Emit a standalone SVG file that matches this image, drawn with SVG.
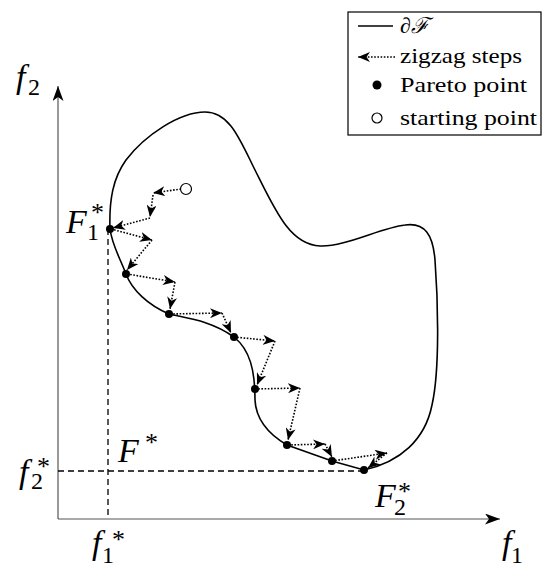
<svg xmlns="http://www.w3.org/2000/svg" width="546" height="569" viewBox="0 0 546 569">
<style>
.curve{fill:none;stroke:#000;stroke-width:1.6}
.axis{fill:none;stroke:#555;stroke-width:1.2}
.dash{fill:none;stroke:#000;stroke-width:1.3;stroke-dasharray:6 4}
.step{fill:none;stroke:#000;stroke-width:1.6;stroke-dasharray:1.6 1.6;marker-end:url(#stealth)}
.pareto{fill:#000}
.start{fill:#fff;stroke:#000;stroke-width:1.2}
.math{font-family:"Liberation Serif",serif;font-style:italic;font-size:34px;fill:#000}
.sub{font-style:normal;font-size:24px}
.star{font-style:normal;font-size:26px}
.leg{font-family:"Liberation Serif",serif;font-size:22px;fill:#000}
</style>
<defs>
<marker id="stealth" viewBox="0 0 12 10" refX="12" refY="5" markerWidth="12" markerHeight="10" markerUnits="userSpaceOnUse" orient="auto">
<path d="M0,0 L12,5 L0,10 L3.5,5 Z" fill="#000"/>
</marker>
<marker id="axhead" viewBox="0 0 15 11" refX="15" refY="5.5" markerWidth="15" markerHeight="11" markerUnits="userSpaceOnUse" orient="auto">
<path d="M0,0 L15,5.5 L0,11 L4,5.5 Z" fill="#000"/>
</marker>
</defs>
<g id="axes">
<path class="axis" d="M58,519 L58,86" marker-end="url(#axhead)"/>
<path class="axis" d="M58,519 L500,519" marker-end="url(#axhead)"/>
</g>
<g id="guides">
<path class="dash" d="M108,229 L108,519"/>
<path class="dash" d="M58,471 L362,471"/>
</g>
<g id="boundary">
<path class="curve" d="M110,229 C109,200 113,178 126,160 C145,135 180,112 205,112 C230,112 240,140 255,170 C275,210 290,245 320,246 C345,247 380,228 405,225 C425,222 433,235 435,260 C438,300 440,370 432,405 C425,440 400,462 364,470 L332,461 L287,445 C270,435 256,420 255,400 C255,370 250,350 234,337 C210,320 185,318 169,314 C148,305 132,290 126,274 C120,258 112,245 110,229 Z"/>
</g>
<g id="connectors">
<path class="step" d="M181,189 L153,193"/>
<path class="step" d="M153,195 L150,217"/>
<path class="step" d="M150,218 L113,228"/>
<path class="step" d="M111,229 L152,240"/>
<path class="step" d="M152,240 L127,270"/>
<path class="step" d="M127,274 L175,282"/>
<path class="step" d="M175,282 L170,309"/>
<path class="step" d="M170,314 L222,313"/>
<path class="step" d="M222,313 L231,333"/>
<path class="step" d="M234,337 L275,341"/>
<path class="step" d="M275,341 L257,385"/>
<path class="step" d="M255,389 L300,388"/>
<path class="step" d="M300,388 L288,440"/>
<path class="step" d="M288,445 L325,444"/>
<path class="step" d="M325,444 L332,457"/>
<path class="step" d="M332,461 L387,453"/>
<path class="step" d="M387,453 L368,468"/>
</g>
<g id="start-point"><circle class="start" cx="186" cy="189" r="5.5"/></g>
<g id="pareto-points">
<circle class="pareto" cx="110" cy="229" r="4"/>
<circle class="pareto" cx="126" cy="274" r="4"/>
<circle class="pareto" cx="169" cy="314" r="4"/>
<circle class="pareto" cx="234" cy="337" r="4"/>
<circle class="pareto" cx="255" cy="389" r="4"/>
<circle class="pareto" cx="287" cy="445" r="4"/>
<circle class="pareto" cx="332" cy="461" r="4"/>
<circle class="pareto" cx="364" cy="470" r="4"/>
</g>
<g id="labels">
<text class="math" x="16" y="88">f<tspan class="sub" x="28" y="95">2</tspan></text>
<text class="math" x="502" y="554">f<tspan class="sub" x="511" y="563">1</tspan></text>
<text class="math" x="92" y="554">f<tspan class="sub" x="102" y="563">1</tspan><tspan class="star" x="112" y="548">*</tspan></text>
<text class="math" x="19" y="483">f<tspan class="sub" x="31" y="489">2</tspan><tspan class="star" x="37" y="475">*</tspan></text>
<text class="math" x="66" y="233">F<tspan class="sub" x="87" y="240">1</tspan><tspan class="star" x="91" y="221">*</tspan></text>
<text class="math" x="118" y="462">F<tspan class="star" x="145" y="451">*</tspan></text>
<text class="math" x="375" y="507">F<tspan class="sub" x="394" y="515">2</tspan><tspan class="star" x="398" y="500">*</tspan></text>
</g>
<g id="legend">
<rect x="348" y="12" width="193" height="123" fill="#fff" stroke="#000" stroke-width="1.2"/>
<path class="curve" d="M358,26 L393,26"/>
<text class="leg" x="400" y="33" font-style="italic">∂ℱ</text>
<path class="step" d="M395,57 L358,57"/>
<text class="leg" x="400" y="63" textLength="122" lengthAdjust="spacingAndGlyphs">zigzag steps</text>
<circle class="pareto" cx="377" cy="85" r="4.5"/>
<text class="leg" x="400" y="92" textLength="127" lengthAdjust="spacingAndGlyphs">Pareto point</text>
<circle class="start" cx="377" cy="118" r="5"/>
<text class="leg" x="400" y="125" textLength="137" lengthAdjust="spacingAndGlyphs">starting point</text>
</g>
</svg>
